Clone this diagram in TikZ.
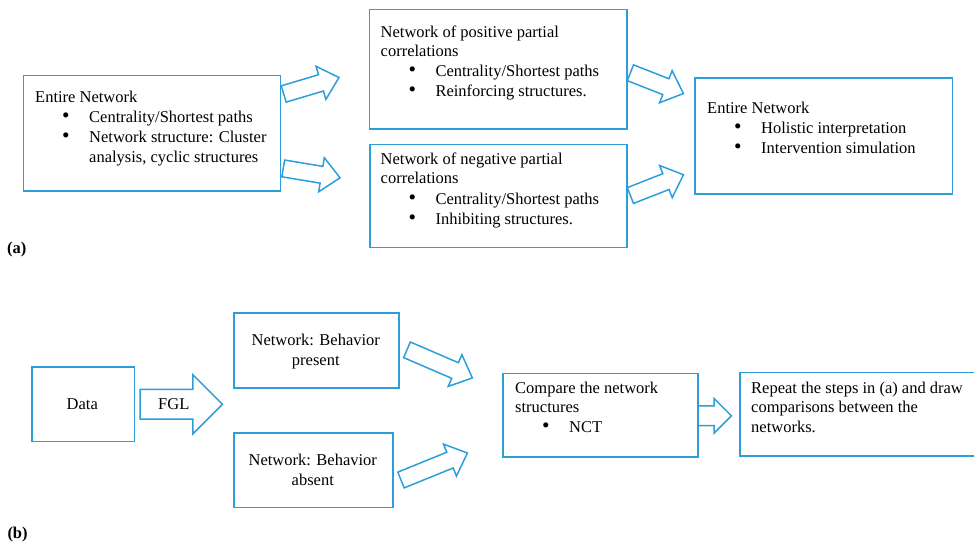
\documentclass[tikz,border=0pt]{standalone}
\usepackage{fontspec}
\setmainfont{Liberation Serif}
\usepackage{tikz}
\usetikzlibrary{shapes.arrows,positioning}

\definecolor{nblue}{RGB}{46,158,218}
\newcommand{\bul}{\makebox[27pt][l]{\smash{\scalebox{1.3}{\textbullet}}}}
\tikzset{
  box/.style={draw=nblue,line width=1.5pt,anchor=north west,inner sep=0pt},
  txt/.style={anchor=base west,inner sep=0pt},
  ctxt/.style={anchor=base,inner sep=0pt},
  blk/.style={single arrow,draw=nblue,line width=1.5pt,inner sep=7.75pt,minimum width=0pt,
    single arrow head extend=8.75pt,single arrow tip angle=85,single arrow head indent=0pt,
    anchor=tail,sloped,pos=0}
}

\begin{document}
\begin{tikzpicture}[x=1pt,y=-1pt,font=\fontsize{16.5}{20}\selectfont]
\useasboundingbox (0,0) rectangle (974,545);

% (a)
\node[box,minimum width=257pt,minimum height=115.5pt] (entA) at (22.5,75) {};
\node[box,minimum width=257.3pt,minimum height=119.3pt] (posA) at (368.7,9) {};
\node[box,minimum width=257pt,minimum height=102.7pt] (negA) at (369,144) {};
\node[box,minimum width=257.4pt,minimum height=116pt] (holA) at (694.3,77.3) {};

\node[txt] (entA1) at (35,102.5) {Entire Network};
\node[txt] (entA2) at (62,122.5) {\bul Centrality/Shortest paths};
\node[txt] (entA3) at (62,142.5) {\bul Network structure: Cluster};
\node[txt] (entA4) at (89,162.5) {analysis, cyclic structures};

\node[txt] (posA1) at (380.5,37.5) {Network of positive partial};
\node[txt] (posA2) at (380.5,57) {correlations};
\node[txt] (posA3) at (408.3,77) {\bul Centrality/Shortest paths};
\node[txt] (posA4) at (408.3,97) {\bul Reinforcing structures.};

\node[txt] (negA1) at (380.5,164.5) {Network of negative partial};
\node[txt] (negA2) at (380.5,184) {correlations};
\node[txt] (negA3) at (408.3,204.5) {\bul Centrality/Shortest paths};
\node[txt] (negA4) at (408.3,224.5) {\bul Inhibiting structures.};

\node[txt] (holA1) at (707,114) {Entire Network};
\node[txt] (holA2) at (734,134) {\bul Holistic interpretation};
\node[txt] (holA3) at (734,154) {\bul Intervention simulation};

\coordinate (a1t) at (283,94.2);   \coordinate (a1h) at (338.3,77.7);
\coordinate (a2t) at (282.5,168.3);\coordinate (a2h) at (339.3,177.7);
\coordinate (a3t) at (629.7,72.5); \coordinate (a3h) at (682.7,93.3);
\coordinate (a4t) at (629.7,195.8);\coordinate (a4h) at (682.7,175);
\path (a1t) -- node[blk,minimum height=57.7pt] (arA1) {} (a1h);
\path (a2t) -- node[blk,minimum height=57.6pt] (arA2) {} (a2h);
\path (a3t) -- node[blk,minimum height=56.9pt] (arA3) {} (a3h);
\path (a4t) -- node[blk,minimum height=57pt] (arA4) {} (a4h);

\node[txt,font=\fontsize{16.5}{20}\selectfont\bfseries] (labA) at (7,253.3) {(a)};

% (b)
\node[box,minimum width=102.7pt,minimum height=74.7pt] (dataB) at (31,366) {};
\node[box,minimum width=165pt,minimum height=75pt] (presB) at (233.3,312.3) {};
\node[box,minimum width=159pt,minimum height=74.4pt] (absB) at (233.3,432.3) {};
\node[box,minimum width=195pt,minimum height=83.3pt] (cmpB) at (502.3,372.7) {};
\node[box,minimum width=240.7pt,minimum height=83.3pt] (repB) at (739.3,371.7) {};

\node[ctxt] (dataB1) at (82.3,409.3) {Data};
\node[ctxt] (presB1) at (315.8,345.5) {Network: Behavior};
\node[ctxt] (presB2) at (315.8,365.5) {present};
\node[ctxt] (absB1) at (312.8,465.5) {Network: Behavior};
\node[ctxt] (absB2) at (312.8,485) {absent};

\node[txt] (cmpB1) at (515,393.3) {Compare the network};
\node[txt] (cmpB2) at (515,412.8) {structures};
\node[txt] (cmpB3) at (542,432.3) {\bul NCT};

\node[txt] (repB1) at (751,393.3) {Repeat the steps in (a) and draw};
\node[txt] (repB2) at (751,412.8) {comparisons between the};
\node[txt] (repB3) at (751,432.3) {networks.};

\coordinate (b0t) at (139.3,404.3); \coordinate (b0h) at (219.3,404.3);
\coordinate (b1t) at (406.3,349.5); \coordinate (b1h) at (471.7,377.7);
\coordinate (b2t) at (400.3,480.3); \coordinate (b2h) at (466.7,453.3);
\coordinate (b3t) at (697.3,415.8); \coordinate (b3h) at (730.7,415.8);
\path (b0t) -- node[blk,minimum height=80pt,inner xsep=17.4pt,inner ysep=8.65pt,text height=11pt,text depth=0pt,
  single arrow head extend=14.6pt,single arrow tip angle=90] (arB0) {FGL} (b0h);
\path (b1t) -- node[blk,minimum height=71.2pt] (arB1) {} (b1h);
\path (b2t) -- node[blk,minimum height=71.7pt] (arB2) {} (b2h);
\path (b3t) -- node[blk,minimum height=33.4pt,inner sep=9.15pt,single arrow head extend=7.5pt,
  single arrow tip angle=90] (arB3) {} (b3h);

\node[txt,font=\fontsize{16.5}{20}\selectfont\bfseries] (labB) at (7.3,538.3) {(b)};
\end{tikzpicture}
\end{document}
